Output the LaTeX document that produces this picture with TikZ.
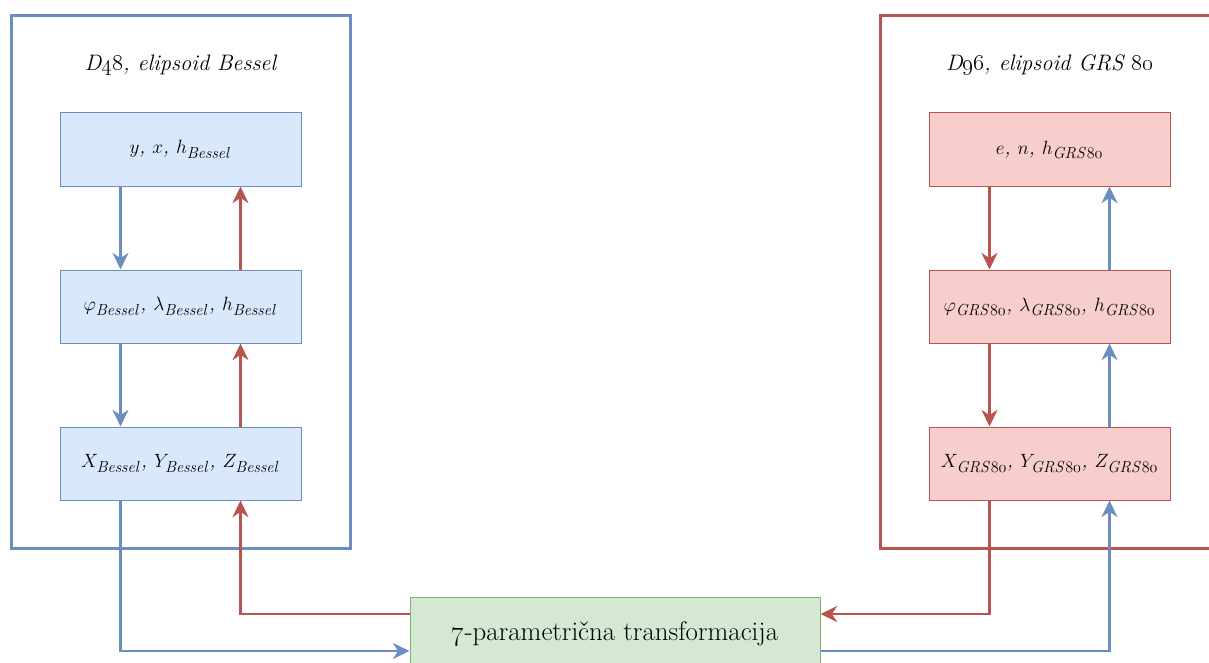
\documentclass[tikz,border=0pt]{standalone}
\usetikzlibrary{arrows.meta,calc}
\definecolor{bluestroke}{HTML}{6C8EBF}
\definecolor{bluefill}{HTML}{DAE8FC}
\definecolor{redstroke}{HTML}{B85450}
\definecolor{redfill}{HTML}{F8CECC}
\definecolor{greenstroke}{HTML}{82B366}
\definecolor{greenfill}{HTML}{D5E8D4}
\DeclareMathSizes{15}{15}{11.7}{9}
\newcommand\grs{\mathit{GRS}\mathnormal{80}}
\newcommand\bes{\mathit{Bessel}}
\begin{document}
\begin{tikzpicture}[x=0.75pt,y=-0.75pt,
  tip/.tip={Stealth[length=12.5pt,width=12pt,inset=4pt]},
  boxtext/.style={font=\fontsize{15}{18}\selectfont\itshape},
  bluebox/.style={boxtext,draw=bluestroke,fill=bluefill,line width=0.75pt,minimum width=180.75pt,minimum height=54.75pt,inner sep=0pt},
  redbox/.style={boxtext,draw=redstroke,fill=redfill,line width=0.75pt,minimum width=180.75pt,minimum height=54.75pt,inner sep=0pt},
  greenbox/.style={draw=greenstroke,fill=greenfill,line width=0.75pt,minimum width=307.5pt,minimum height=55.5pt,inner sep=0pt,font=\fontsize{20.2}{24}\selectfont},
  frameblue/.style={draw=bluestroke,line width=2.25pt},
  framered/.style={draw=redstroke,line width=2.25pt},
  title/.style={font=\fontsize{16.8}{20}\selectfont\itshape},
  bluearrow/.style={draw=bluestroke,line width=1.8pt,-tip},
  redarrow/.style={draw=redstroke,line width=1.8pt,-tip},
]
\useasboundingbox (0,0) rectangle (1209,663);
\clip (0,0) rectangle (1209,663);
% frames
\draw[frameblue] (11,16) rectangle (350,548);
\draw[framered] (880,16) rectangle (1230,548);
% titles
\node[title] (tl) at (180.5,65) {D\oldstylenums{48}, elipsoid Bessel};
\node[title] (tr) at (1049.5,65) {D\oldstylenums{96}, elipsoid GRS \oldstylenums{80}};
% left boxes
\node[bluebox] (b1) at (180.5,149.5) {$y$, $x$, $h_{\bes}$};
\node[bluebox] (b2) at (180.5,306.5) {$\varphi_{\bes}$, $\lambda_{\bes}$, $h_{\bes}$};
\node[bluebox] (b3) at (180.5,463.5) {$X_{\bes}$, $Y_{\bes}$, $Z_{\bes}$};
% right boxes
\node[redbox] (r1) at (1049.5,149.5) {$e$, $n$, $h_{\grs}$};
\node[redbox] (r2) at (1049.5,306.5) {$\varphi_{\grs}$, $\lambda_{\grs}$, $h_{\grs}$};
\node[redbox] (r3) at (1049.5,463.5) {$X_{\grs}$, $Y_{\grs}$, $Z_{\grs}$};
% green box
\node[greenbox] (g) at (615,634) {\oldstylenums{7}-parametrična transformacija};
% left arrows
\draw[bluearrow] ($(b1.south)+(-60,0)$) -- ($(b2.north)+(-60,0)$);
\draw[bluearrow] ($(b2.south)+(-60,0)$) -- ($(b3.north)+(-60,0)$);
\draw[redarrow] ($(b2.north)+(60,0)$) -- ($(b1.south)+(60,0)$);
\draw[redarrow] ($(b3.north)+(60,0)$) -- ($(b2.south)+(60,0)$);
% right arrows
\draw[redarrow] ($(r1.south)+(-60,0)$) -- ($(r2.north)+(-60,0)$);
\draw[redarrow] ($(r2.south)+(-60,0)$) -- ($(r3.north)+(-60,0)$);
\draw[bluearrow] ($(r2.north)+(60,0)$) -- ($(r1.south)+(60,0)$);
\draw[bluearrow] ($(r3.north)+(60,0)$) -- ($(r2.south)+(60,0)$);
% bottom connections
\draw[bluearrow] ($(b3.south)+(-60,0)$) |- ($(g.west)+(0,17)$);
\draw[redarrow] ($(g.west)+(0,-20)$) -| ($(b3.south)+(60,0)$);
\draw[redarrow] ($(r3.south)+(-60,0)$) |- ($(g.east)+(0,-20)$);
\draw[bluearrow] ($(g.east)+(0,17)$) -| ($(r3.south)+(60,0)$);
\end{tikzpicture}
\end{document}
